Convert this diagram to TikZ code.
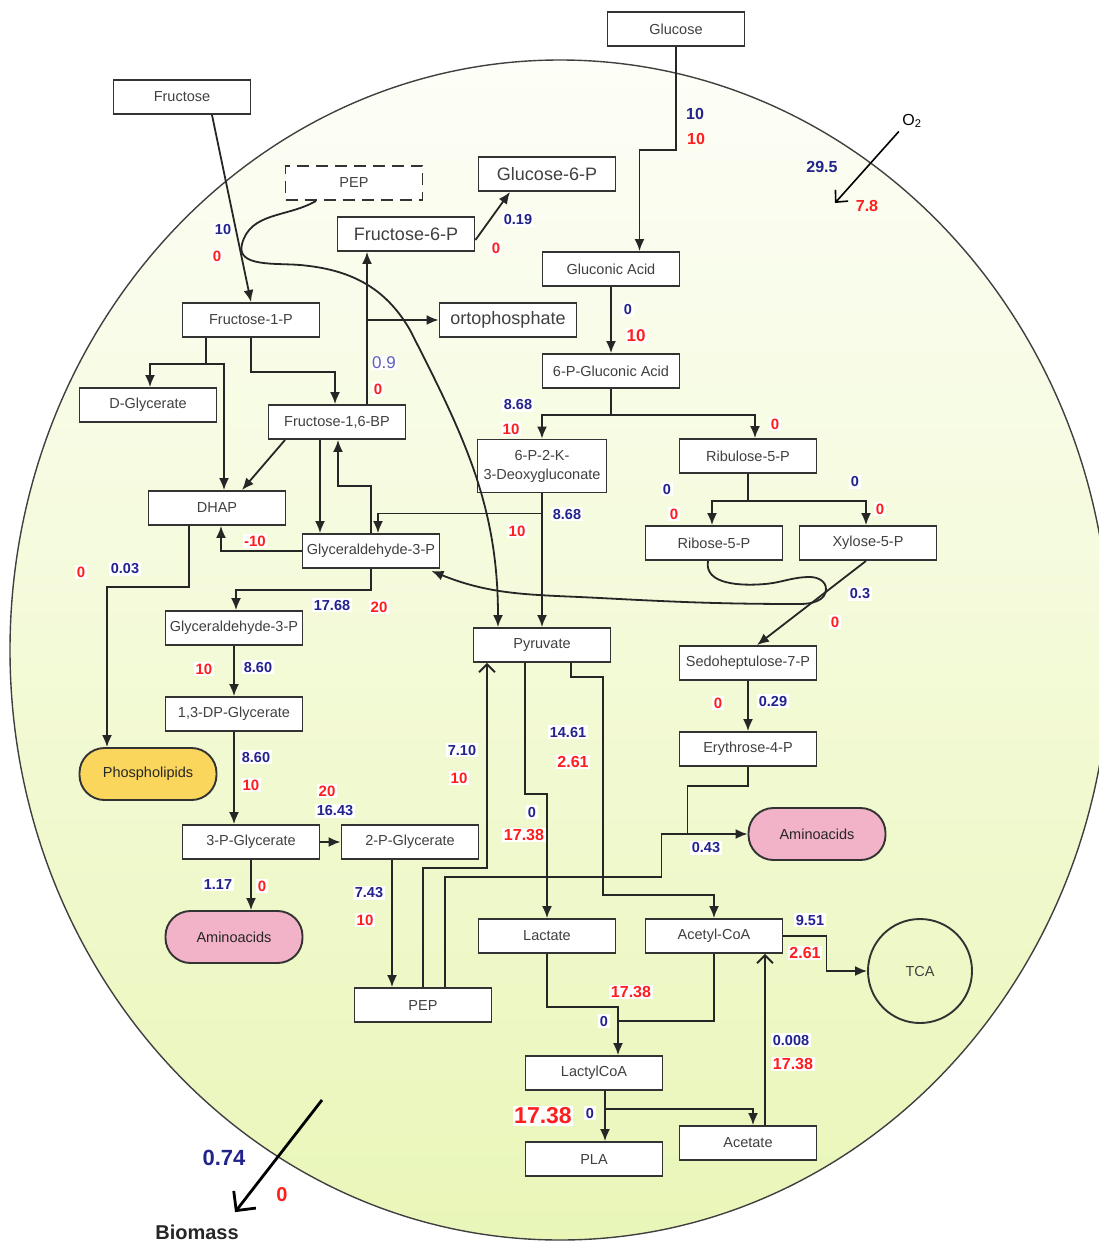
\documentclass[tikz,border=0pt]{standalone}
\usepackage{fontspec}
\setmainfont{Liberation Sans}
\usetikzlibrary{arrows.meta}
\definecolor{numblue}{RGB}{35,35,140}
\definecolor{numred}{RGB}{255,30,30}
\definecolor{softblue}{RGB}{95,95,185}
\definecolor{lipcol}{RGB}{250,214,92}
\definecolor{aacol}{RGB}{242,178,200}
\definecolor{celltop}{RGB}{253,254,247}
\definecolor{cellbot}{RGB}{233,246,184}
\newcommand{\pxfont}[1]{\fontsize{#1}{#1}\selectfont}
\tikzset{
  box/.style={draw=black!80, fill=white, line width=1.9pt, minimum width=137pt,
    minimum height=34pt, inner sep=1pt, text=black!75, font=\pxfont{14.5}},
  bigbox/.style={box, font=\pxfont{18}},
  pill/.style={box, rounded corners=25pt, minimum height=52pt, text=black!85},
  flow/.style={line width=1.8pt, draw=black!85, -{Latex[length=12pt,width=10pt]}},
  back/.style={line width=1.8pt, draw=black!85, -{Straight Barb[length=8pt,width=16pt]}},
  link/.style={line width=1.8pt, draw=black!85},
  bl/.style={text=numblue, font=\bfseries\pxfont{14.5}, fill=white, inner sep=1.5pt},
  rd/.style={text=numred, font=\bfseries\pxfont{15}, fill=white, inner sep=1.5pt}
}
\begin{document}
\begin{tikzpicture}[x=1pt,y=-1pt]
\useasboundingbox (0,0) rectangle (1099,1243);
\shadedraw[top color=celltop, bottom color=cellbot, draw=black!75, line width=1.4pt]
  (560,650) ellipse [x radius=550pt, y radius=590pt];

\node[box] (glc) at (676,29) {Glucose};
\node[box] (fru) at (182,97) {Fructose};
\node[box, dash pattern=on 12pt off 7pt] (pepd) at (354,183) {PEP};
\node[bigbox] (g6p) at (547,174) {Glucose-6-P};
\node[bigbox] (f6p) at (406,234) {Fructose-6-P};
\node[box] (glcn) at (611,269) {Gluconic Acid};
\node[box] (f1p) at (251,320) {Fructose-1-P};
\node[bigbox] (orto) at (508,320) {ortophosphate};
\node[box] (pglcn) at (611,371) {6-P-Gluconic Acid};
\node[box] (dglyc) at (148,405) {D-Glycerate};
\node[box] (fbp) at (337,422) {Fructose-1,6-BP};
\node[box, minimum width=129pt, minimum height=53pt, align=center, font=\fontsize{14.5}{19}\selectfont]
  (kdpg) at (542,466) {6-P-2-K-\\3-Deoxygluconate};
\node[box] (ru5p) at (748,456) {Ribulose-5-P};
\node[box] (dhap) at (217,508) {DHAP};
\node[box] (gapa) at (371,551) {Glyceraldehyde-3-P};
\node[box] (r5p) at (714,543) {Ribose-5-P};
\node[box] (x5p) at (868,543) {Xylose-5-P};
\node[box] (gapb) at (234,628) {Glyceraldehyde-3-P};
\node[box] (pyr) at (542,645) {Pyruvate};
\node[box] (s7p) at (748,663) {Sedoheptulose-7-P};
\node[box] (dpg) at (234,714) {1,3-DP-Glycerate};
\node[box] (e4p) at (748,749) {Erythrose-4-P};
\node[pill, fill=lipcol] (lipid) at (148,774) {Phospholipids};
\node[pill, fill=aacol] (aaa) at (817,834) {Aminoacids};
\node[box] (pg3) at (251,842) {3-P-Glycerate};
\node[box] (pg2) at (410,842) {2-P-Glycerate};
\node[pill, fill=aacol] (aab) at (234,937) {Aminoacids};
\node[box] (lac) at (547,936) {Lactate};
\node[box] (accoa) at (714,936) {Acetyl-CoA};
\node[circle, draw=black!80, line width=1.9pt, minimum size=104pt, text=black!75, font=\pxfont{14.5}]
  (tca) at (920,971) {TCA};
\node[box] (pep) at (423,1005) {PEP};
\node[box] (lcoa) at (594,1073) {LactylCoA};
\node[box] (ace) at (748,1143) {Acetate};
\node[box] (pla) at (594,1159) {PLA};
\node[font=\pxfont{16}] (o2) at (912,121) {O\textsubscript{2}};
\node[font=\bfseries\pxfont{20}, text=black!85] (bio) at (197,1232) {Biomass};

\node[bl, fill=none, font=\bfseries\pxfont{16}] (glcb) at (695,114) {10};
\node[rd, fill=none, font=\bfseries\pxfont{16}] (glcr) at (696,139) {10};
\node[bl] (frub) at (223,230) {10}; \node[rd] (frur) at (217,256) {0};
\node[bl] (g6pb) at (518,220) {0.19}; \node[rd] (g6pr) at (496,248) {0};
\node[text=softblue, font=\pxfont{17}, fill=white, inner sep=1pt] (f6pb) at (384,363) {0.9};
\node[rd] (f6pr) at (378,389) {0};
\node[bl, fill=none, font=\bfseries\pxfont{16}] (o2b) at (822,167) {29.5};
\node[rd, fill=none, font=\bfseries\pxfont{16}] (o2r) at (867,206) {7.8};
\node[bl] (gnb) at (628,310) {0}; \node[rd, font=\bfseries\pxfont{17}] (gnr) at (636,336) {10};
\node[bl] (kdb) at (518,405) {8.68}; \node[rd] (kdr) at (511,429) {10};
\node[rd] (rur) at (775,424) {0};
\node[bl] (rib) at (667,489) {0}; \node[rd] (rir) at (674,514) {0};
\node[bl] (xyb) at (855,482) {0}; \node[rd] (xyr) at (880,509) {0};
\node[bl] (gab) at (567,514) {8.68}; \node[rd] (gar) at (517,531) {10};
\node[rd] (dhr) at (255,541) {-10};
\node[rd] (lpr) at (81,572) {0}; \node[bl] (lpb) at (125,569) {0.03};
\node[bl] (s7b) at (860,594) {0.3}; \node[rd] (s7r) at (835,622) {0};
\node[bl] (gbb) at (332,605) {17.68}; \node[rd] (gbr) at (379,607) {20};
\node[rd] (dpr) at (204,669) {10}; \node[bl] (dpb) at (258,667) {8.60};
\node[rd] (e4r) at (718,703) {0}; \node[bl] (e4b) at (773,701) {0.29};
\node[bl] (acb) at (568,732) {14.61}; \node[rd, font=\bfseries\pxfont{16}] (acr) at (573,762) {2.61};
\node[bl] (pyb) at (462,750) {7.10}; \node[rd] (pyr2) at (459,778) {10};
\node[bl] (p3b) at (256,757) {8.60}; \node[rd] (p3r) at (251,785) {10};
\node[rd] (p2r) at (327,791) {20}; \node[bl] (p2b) at (335,811) {16.43};
\node[bl] (lab) at (532,812) {0}; \node[rd, font=\bfseries\pxfont{16}] (lar) at (524,835) {17.38};
\node[bl] (aab2) at (706,848) {0.43};
\node[bl] (abb) at (218,884) {1.17}; \node[rd] (abr) at (262,886) {0};
\node[bl] (peb) at (369,893) {7.43}; \node[rd] (per) at (365,920) {10};
\node[bl] (tcb) at (810,920) {9.51}; \node[rd, font=\bfseries\pxfont{16}] (tcr) at (805,953) {2.61};
\node[rd, font=\bfseries\pxfont{16}] (lcr) at (631,992) {17.38}; \node[bl] (lcb) at (604,1021) {0};
\node[bl] (aceb) at (791,1040) {0.008}; \node[rd, font=\bfseries\pxfont{16}] (acer) at (793,1064) {17.38};
\node[rd, font=\bfseries\pxfont{23}] (plr) at (543,1116) {17.38}; \node[bl] (plb) at (590,1113) {0};
\node[text=numblue, font=\bfseries\pxfont{22}] (biob) at (224,1158) {0.74};
\node[text=numred, font=\bfseries\pxfont{20}] (bior) at (282,1195) {0};

\coordinate (oxin) at (835,203); \coordinate (bmout) at (322,1100);

\draw[flow] (glc.south) -- ++(0,103) -| ([xshift=28.5pt]glcn.north);
\draw[flow] ([xshift=30pt]fru.south) -- (f1p.north);
\draw[flow] ([xshift=-38pt]pepd.south) to[out=210,in=75] (242,244) to[out=-105,in=175] (300,265)
  to[out=-5,in=120] (410,330) to[out=-63,in=90] ([xshift=-44pt]pyr.north);
\draw[flow] ([yshift=-6pt]f6p.east) -- ([xshift=-37pt]g6p.south);
\draw[flow] ([xshift=30pt]fbp.north) -- ([xshift=-39pt]f6p.south);
\draw[flow] ([xshift=-39pt]f6p.south |- orto.west) -- (orto.west);
\draw[flow] ([xshift=-45pt]f1p.south) -- ++(0,26) coordinate (fj) -| ([xshift=2pt]dglyc.north);
\draw[flow] (fj) -| ([xshift=7pt]dhap.north);
\draw[flow] (f1p.south) -- ++(0,34) -| ([xshift=-2pt]fbp.north);
\draw[flow] ([xshift=-52pt]fbp.south) -- ([xshift=25pt]dhap.north);
\draw[flow] ([xshift=-17pt]fbp.south) -- ([xshift=-51pt]gapa.north);
\draw[flow] (gapa.north) -- ++(0,-47) -| ([xshift=1pt]fbp.south);
\draw[flow] (kdpg.south) ++(0,20) -| ([xshift=7pt]gapa.north);
\draw[flow] (kdpg.south) -- (pyr.north);
\draw[flow] (glcn.south) -- (pglcn.north);
\draw[flow] (pglcn.south) -- ++(0,26) coordinate (pj) -| (kdpg.north);
\draw[flow] (pj) -| ([xshift=7pt]ru5p.north);
\draw[flow] (ru5p.south) -- ++(0,27) coordinate (rj) -| ([xshift=-2pt]r5p.north);
\draw[flow] (rj) -| ([xshift=-2pt]x5p.north);
\draw[flow] ([xshift=-6pt]r5p.south) to[out=-100,in=185] (765,584) to[out=5,in=180] (810,577)
  to[out=0,in=90] (826,589) to[out=-90,in=0] (800,604) to[out=180,in=-3] (600,598)
  to[out=177,in=-22] ([xshift=-9pt,yshift=-2pt]gapa.south east);
\draw[flow] ([xshift=-2pt]x5p.south) -- ([xshift=9pt]s7p.north);
\draw[flow] (s7p.south) -- (e4p.north);
\draw[link] (e4p.south) -- ++(0,19) -| ([xshift=-60pt]aaa.west);
\draw[flow] ([xshift=22pt]pep.north) -- ++(0,-110) -| ([xshift=-86pt]aaa.west) -- (aaa.west);
\draw[back] (pep.north) -- ++(0,-119) -| ([xshift=-55pt]pyr.south);
\draw[flow] ([xshift=-17pt]pyr.south) -- ++(0,131) -| (lac.north);
\draw[flow] ([xshift=29pt]pyr.south) -- ++(0,14) -- ++(32,0) -- ++(0,218) -| (accoa.north);
\draw[flow] (gapa.south) -- ++(0,21) -| ([xshift=2pt]gapb.north);
\draw[flow] (gapa.west) -| ([xshift=4pt]dhap.south);
\draw[flow] ([xshift=-28pt]dhap.south) -- ++(0,61) -| ([xshift=-41pt]lipid.north);
\draw[flow] (gapb.south) -- (dpg.north);
\draw[flow] (dpg.south) -- ([xshift=-17pt]pg3.north);
\draw[flow] (pg3.east) -- (pg2.west);
\draw[flow] (pg3.south) -- ([xshift=17pt]aab.north);
\draw[flow] ([xshift=-18pt]pg2.south) -- ([xshift=-31pt]pep.north);
\draw[flow] (lac.south) -- ++(0,53) -| ([xshift=24pt]lcoa.north);
\draw[link] (accoa.south) -- ++(0,67) -- ++(-96,0);
\draw[flow] ([xshift=11pt]lcoa.south) -- ([xshift=11pt]pla.north);
\draw[flow] ([xshift=11pt]lcoa.south) ++(0,18) -| ([xshift=5pt]ace.north);
\draw[back] ([xshift=17pt]ace.north) -- ([xshift=51pt]accoa.south);
\draw[flow] (accoa.east) -- ++(43,0) |- (tca.west);
\draw[line width=1.6pt, -{Straight Barb[length=9pt,width=17pt]}] (o2.south west) -- (oxin);
\draw[line width=2.8pt, -{Straight Barb[length=14pt,width=28pt]}] (bmout) -- ([xshift=38pt,yshift=9pt]bio.north);
\end{tikzpicture}
\end{document}
